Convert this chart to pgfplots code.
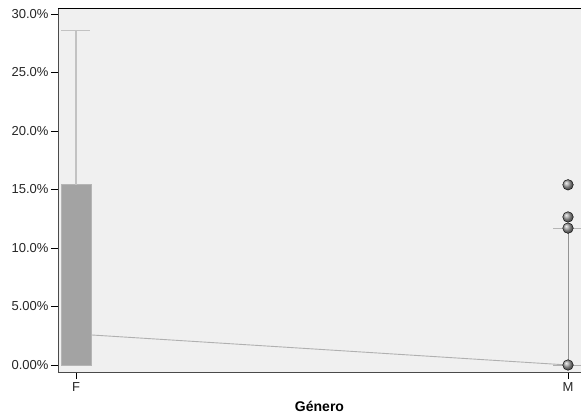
\documentclass[border=0pt]{standalone}
\usepackage{pgfplots}
\pgfplotsset{compat=1.18}
\usepackage{fontspec}
\setmainfont{Liberation Sans}

\definecolor{plotbg}{HTML}{F0F0F0}
\definecolor{boxfill}{HTML}{A3A3A3}
\definecolor{boxedge}{HTML}{B5B5B5}
\definecolor{whiskF}{HTML}{C2C2C2}
\definecolor{whiskM}{HTML}{939393}
\definecolor{medline}{HTML}{B0B0B0}
\definecolor{axisgray}{HTML}{4A4A4A}

\begin{document}
\begin{tikzpicture}
% page extent around the plot frame
\useasboundingbox (-58pt,-46pt) rectangle (523pt,372pt);
\begin{axis}[
  at={(0,0)}, anchor=south west,
  width=523pt, height=364pt, scale only axis,
  xmin=-0.0366, xmax=1.0264,
  ymin=-0.598, ymax=30.51,
  axis background/.style={fill=plotbg},
  axis x line*=bottom, axis y line*=left,
  axis line style={axisgray, line width=0.9pt},
  xtick={0,1}, xticklabels={F,M},
  ytick={0,5,10,15,20,25,30},
  yticklabels={0.00\%,5.00\%,10.0\%,15.0\%,20.0\%,25.0\%,30.0\%},
  tick align=outside, major tick length=7pt,
  tick style={black, line width=0.8pt},
  ticklabel style={font=\fontsize{13}{15}\selectfont, text=black!85},
  yticklabel style={xshift=1pt},
  xlabel={Género},
  xlabel style={font=\fontsize{14}{16}\selectfont\bfseries, yshift=-3pt},
]
% line joining the medians
\addplot[medline, line width=0.9pt] coordinates {(0,2.65) (1,0)};

% F: box and upper whisker
\addplot[fill=boxfill, draw=boxedge, line width=0.8pt]
  coordinates {(-0.0305,0) (0.0305,0) (0.0305,15.4) (-0.0305,15.4)} -- cycle;
\addplot[whiskF, line width=1.1pt] coordinates {(0,15.4) (0,28.55)};
\addplot[whiskF, line width=1.1pt] coordinates {(-0.0305,28.55) (0.0285,28.55)};

% M: collapsed box, whisker and cap
\addplot[medline, line width=1pt] coordinates {(0.9695,0) (1.0305,0)};
\addplot[whiskM, line width=1pt] coordinates {(1,0) (1,11.7)};
\addplot[boxedge, line width=1.1pt] coordinates {(0.9695,11.7) (1.0305,11.7)};

% M: outlying values
\addplot[only marks, mark=ball, mark size=5.3pt, ball color=black!38]
  coordinates {(1,0) (1,11.7) (1,12.65) (1,15.4)};
\end{axis}
\draw[black, line width=0.9pt] (current axis.north west) -- (current axis.north east);
\end{tikzpicture}
\end{document}
